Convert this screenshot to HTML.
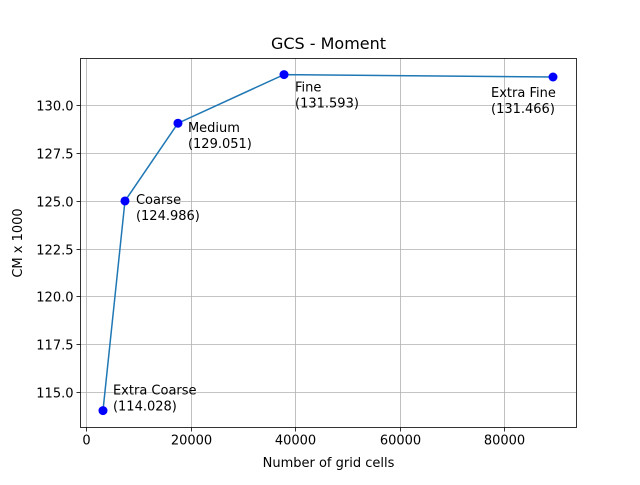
<!DOCTYPE html>
<html><head><meta charset="utf-8"><style>
body{margin:0;background:#fff;}
svg text{font-family:"DejaVu Sans","Liberation Sans",sans-serif;}
</style></head><body>
<svg id="chart" width="640" height="480" xmlns="http://www.w3.org/2000/svg"></svg>
<script>
const labels = ["Extra Coarse","Coarse","Medium","Fine","Extra Fine"];
const cells = [3250, 7460, 17600, 37900, 89380];
const cm = [114.028, 124.986, 129.051, 131.593, 131.466];
const xTicks = [0, 20000, 40000, 60000, 80000];
const yTicks = [115.0, 117.5, 120.0, 122.5, 125.0, 127.5, 130.0];
const labelDx = [10, 11, 10, 11, -62];
const labelDy = [-21, -2, 4, 12, 15];

const L=80.5,R=576.5,T=58.5,B=427.5;
const X=v=>86+(v/20000)*104.5;
const Y=v=>392-(v-115)*19.13;
const svg=document.getElementById('chart');
const NS='http://www.w3.org/2000/svg';
function mk(tag,attrs,parent){const e=document.createElementNS(NS,tag);for(const k in attrs)e.setAttribute(k,attrs[k]);(parent||svg).appendChild(e);return e;}

const grid=mk('g',{});


xTicks.forEach(t=>{
  const x=Math.round(X(t))+0.5;
  mk('line',{x1:x,x2:x,y1:T,y2:B,stroke:'#b0b0b0','stroke-width':0.8},grid);
  mk('line',{x1:x,x2:x,y1:B,y2:B+4,stroke:'#000','stroke-width':0.8});
  const tx=mk('text',{x:x,y:B+17,'font-size':13,'text-anchor':'middle'});
  tx.textContent=t;
  
  
});
yTicks.forEach(t=>{
  const y=Math.round(Y(t))+0.5;
  mk('line',{x1:L,x2:R,y1:y,y2:y,stroke:'#b0b0b0','stroke-width':0.8},grid);
  mk('line',{x1:L-4,x2:L,y1:y,y2:y,stroke:'#000','stroke-width':0.8});
  const tx=mk('text',{x:L-7,y:y+5,'font-size':13,'text-anchor':'end'});
  tx.textContent=t.toFixed(1);
  
  
});

const line=mk('polyline',{points:cells.map((c,i)=>X(c)+','+Y(cm[i])).join(' '),fill:'none',stroke:'#1f77b4','stroke-width':1.5});



cells.forEach((c,i)=>{
  const p=mk('circle',{cx:X(c),cy:Y(cm[i]),r:4.5,fill:'#0000ff'});
  
  
  const tx=mk('text',{x:X(c)+labelDx[i],y:Y(cm[i])+labelDy[i]+5,'font-size':13});
  
  
  const t1=mk('tspan',{x:X(c)+labelDx[i]},tx);t1.textContent=labels[i];
  const t2=mk('tspan',{x:X(c)+labelDx[i],dy:16},tx);t2.textContent='('+cm[i].toFixed(3)+')';
});

const fr=mk('rect',{x:L,y:T,width:R-L,height:B-T,fill:'none',stroke:'#000','stroke-width':0.8});



const ti=mk('text',{x:(L+R)/2,y:49,'font-size':16,'text-anchor':'middle'});
ti.textContent='GCS - Moment';


const xl=mk('text',{x:(L+R)/2,y:467,'font-size':13,'text-anchor':'middle'});
xl.textContent='Number of grid cells';


const yl=mk('text',{x:0,y:0,'font-size':13,'text-anchor':'middle',transform:'translate(22,243) rotate(-90)'});
yl.textContent='CM x 1000';


</script>
</body></html>
